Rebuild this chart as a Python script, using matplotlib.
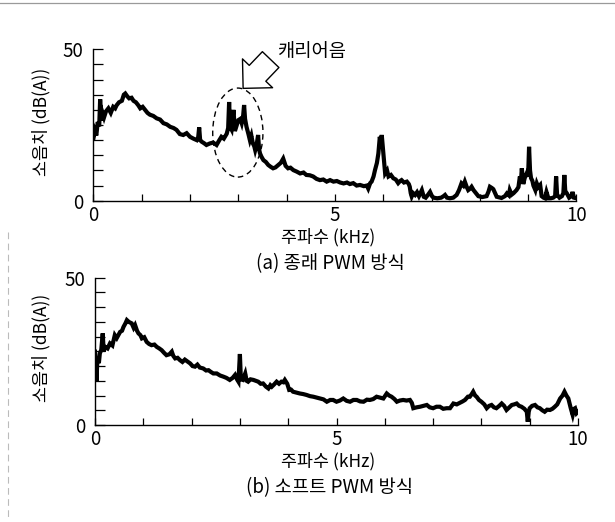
import matplotlib
matplotlib.use("Agg")
import matplotlib.pyplot as plt
import matplotlib.lines as lines
from matplotlib.patches import Ellipse
from matplotlib.ticker import MultipleLocator

plt.rcParams['font.family'] = ['Noto Sans CJK KR', 'DejaVu Sans']

# (a) conventional PWM: frequency (kHz) and noise level (dB(A))
freq_a = [0.00, 0.03, 0.06, 0.09, 0.12, 0.14, 0.16, 0.19, 0.22, 0.26,
          0.31, 0.36, 0.41, 0.45, 0.48, 0.53, 0.59, 0.63, 0.66, 0.70,
          0.74, 0.79, 0.83, 0.88, 0.93, 0.97, 1.02, 1.07, 1.12, 1.17,
          1.24, 1.31, 1.38, 1.45, 1.52, 1.59, 1.66, 1.72, 1.79, 1.86,
          1.93, 2.00, 2.07, 2.14, 2.17, 2.19, 2.21, 2.24, 2.29, 2.34,
          2.41, 2.48, 2.55, 2.60, 2.65, 2.70, 2.76, 2.79, 2.81, 2.83,
          2.86, 2.90, 2.93, 2.96, 3.00, 3.04, 3.07, 3.10, 3.12, 3.14,
          3.17, 3.21, 3.24, 3.27, 3.30, 3.33, 3.35, 3.38, 3.41, 3.43,
          3.45, 3.48, 3.52, 3.57, 3.62, 3.67, 3.72, 3.77, 3.83, 3.88,
          3.93, 3.98, 4.03, 4.08, 4.14, 4.21, 4.28, 4.35, 4.41, 4.48,
          4.55, 4.62, 4.69, 4.76, 4.83, 4.90, 4.97, 5.04, 5.11, 5.18,
          5.25, 5.31, 5.38, 5.45, 5.52, 5.60, 5.66, 5.69, 5.73, 5.76,
          5.80, 5.83, 5.87, 5.90, 5.93, 5.95, 5.97, 5.99, 6.01, 6.04,
          6.08, 6.11, 6.16, 6.21, 6.26, 6.31, 6.35, 6.38, 6.43, 6.49,
          6.53, 6.55, 6.57, 6.59, 6.62, 6.66, 6.70, 6.74, 6.77, 6.80,
          6.84, 6.88, 6.93, 6.97, 7.01, 7.04, 7.12, 7.20, 7.25, 7.28,
          7.32, 7.38, 7.45, 7.52, 7.57, 7.62, 7.66, 7.69, 7.73, 7.76,
          7.80, 7.83, 7.87, 7.90, 7.97, 8.05, 8.14, 8.18, 8.21, 8.25,
          8.28, 8.35, 8.45, 8.52, 8.56, 8.60, 8.62, 8.66, 8.70, 8.76,
          8.80, 8.83, 8.85, 8.87, 8.89, 8.90, 8.93, 8.97, 9.00, 9.02,
          9.04, 9.06, 9.09, 9.11, 9.15, 9.18, 9.21, 9.25, 9.28, 9.32,
          9.35, 9.38, 9.42, 9.47, 9.52, 9.56, 9.58, 9.60, 9.65, 9.70,
          9.73, 9.75, 9.77, 9.80, 9.85, 9.90, 9.92, 9.95, 10.0]
level_a = [20.5, 23.0, 21.5, 26.0, 24.5, 33.5, 26.5, 29.0, 27.5, 29.5,
           30.5, 29.0, 31.0, 30.5, 31.5, 32.5, 33.0, 35.0, 35.4, 34.5,
           33.8, 34.0, 33.0, 32.5, 31.5, 30.5, 31.0, 30.0, 29.0, 28.4,
           28.0, 27.2, 26.8, 25.6, 25.2, 24.4, 24.0, 23.4, 22.0, 21.7,
           22.3, 21.1, 20.5, 20.0, 21.0, 24.2, 20.0, 19.5, 19.0, 18.4,
           18.9, 19.2, 18.4, 19.8, 21.1, 20.5, 22.1, 24.0, 32.6, 24.4,
           23.5, 30.0, 23.0, 24.5, 26.6, 27.0, 25.6, 28.0, 31.6, 27.0,
           24.4, 22.0, 20.0, 21.5, 19.0, 18.0, 16.7, 18.5, 21.7, 17.0,
           15.6, 14.5, 13.4, 12.8, 11.8, 11.2, 10.7, 11.0, 11.8, 12.5,
           13.9, 11.5, 10.7, 10.9, 10.1, 9.6, 9.0, 9.3, 8.5, 8.4,
           8.0, 7.2, 6.8, 7.0, 6.3, 6.8, 6.3, 6.5, 6.0, 5.7,
           6.0, 5.5, 5.8, 5.0, 5.2, 4.8, 5.0, 4.0, 5.8, 6.3,
           8.0, 10.1, 12.5, 15.6, 21.1, 19.0, 21.7, 18.0, 14.5, 9.0,
           10.0, 8.0, 8.5, 7.4, 7.0, 5.8, 6.5, 6.8, 6.0, 6.3,
           5.5, 4.6, 2.5, 1.4, 2.5, 1.9, 2.8, 1.5, 2.5, 3.5,
           1.3, 1.0, 2.0, 2.9, 1.5, 1.0, 0.8, 1.0, 1.5, 1.9,
           1.0, 0.8, 1.0, 1.9, 3.5, 5.7, 5.0, 6.3, 4.5, 3.5,
           4.0, 4.6, 3.5, 2.9, 1.5, 1.2, 1.5, 3.0, 4.6, 4.2,
           3.8, 1.3, 0.9, 1.5, 2.4, 1.8, 3.5, 2.0, 2.5, 3.5,
           4.5, 8.0, 6.0, 10.7, 7.0, 5.5, 7.5, 9.0, 8.0, 17.8,
           10.0, 7.5, 6.5, 5.0, 3.5, 5.7, 4.5, 5.2, 1.5, 1.0,
           0.8, 2.9, 0.8, 0.8, 1.0, 1.5, 8.0, 2.0, 1.0, 1.5,
           2.5, 8.5, 3.0, 2.5, 1.0, 1.5, 2.9, 1.0, 0.8]

# (b) soft PWM
freq_b = [0.00, 0.02, 0.03, 0.05, 0.08, 0.10, 0.13, 0.16, 0.18, 0.21,
          0.26, 0.31, 0.36, 0.41, 0.45, 0.52, 0.56, 0.59, 0.63, 0.66,
          0.70, 0.76, 0.80, 0.83, 0.87, 0.90, 0.94, 0.97, 1.02, 1.07,
          1.12, 1.17, 1.23, 1.28, 1.33, 1.38, 1.43, 1.48, 1.54, 1.59,
          1.62, 1.66, 1.71, 1.76, 1.81, 1.86, 1.92, 1.97, 2.02, 2.07,
          2.12, 2.17, 2.24, 2.30, 2.35, 2.40, 2.45, 2.52, 2.59, 2.66,
          2.72, 2.79, 2.85, 2.90, 2.94, 2.97, 3.00, 3.02, 3.06, 3.11,
          3.14, 3.17, 3.22, 3.28, 3.33, 3.38, 3.43, 3.48, 3.54, 3.59,
          3.63, 3.66, 3.71, 3.76, 3.81, 3.86, 3.90, 3.93, 3.98, 4.02,
          4.06, 4.10, 4.17, 4.24, 4.31, 4.38, 4.45, 4.52, 4.59, 4.66,
          4.73, 4.80, 4.87, 4.93, 5.00, 5.07, 5.14, 5.21, 5.28, 5.35,
          5.42, 5.49, 5.56, 5.63, 5.69, 5.76, 5.83, 5.90, 5.97, 6.04,
          6.09, 6.14, 6.20, 6.25, 6.31, 6.38, 6.45, 6.52, 6.56, 6.59,
          6.66, 6.73, 6.80, 6.87, 6.93, 7.00, 7.07, 7.14, 7.21, 7.28,
          7.35, 7.42, 7.49, 7.56, 7.61, 7.66, 7.72, 7.76, 7.80, 7.83,
          7.87, 7.90, 7.95, 8.00, 8.06, 8.11, 8.16, 8.21, 8.26, 8.31,
          8.37, 8.42, 8.47, 8.52, 8.58, 8.63, 8.68, 8.73, 8.78, 8.83,
          8.89, 8.94, 8.96, 8.98, 9.00, 9.05, 9.11, 9.16, 9.21, 9.26,
          9.31, 9.36, 9.42, 9.47, 9.52, 9.57, 9.63, 9.68, 9.72, 9.76,
          9.80, 9.83, 9.85, 9.87, 9.89, 9.92, 9.94, 9.97, 10.0]
level_b = [24.9, 20.0, 14.7, 22.6, 21.0, 24.3, 25.5, 31.1, 25.0, 26.5,
           26.0, 27.7, 27.0, 30.5, 29.5, 31.6, 32.0, 33.3, 34.5, 35.6,
           35.0, 34.5, 33.0, 33.9, 32.0, 31.1, 30.5, 29.4, 29.8, 28.2,
           27.5, 27.1, 27.3, 26.5, 26.0, 25.4, 24.5, 23.7, 24.0, 24.9,
           23.5, 22.6, 22.8, 22.0, 21.4, 22.2, 21.5, 20.9, 20.0, 19.8,
           20.5, 19.5, 19.2, 18.5, 18.6, 18.0, 17.5, 17.5, 16.8, 16.4,
           16.0, 15.3, 16.0, 17.0, 15.5, 14.7, 24.1, 15.5, 15.3, 17.5,
           15.0, 14.7, 15.5, 15.3, 15.0, 14.7, 14.0, 14.1, 13.0, 12.4,
           13.5, 13.0, 13.8, 14.7, 14.0, 14.7, 14.5, 15.3, 14.0, 11.9,
           12.0, 11.3, 11.0, 10.7, 10.5, 10.2, 9.8, 9.6, 9.3, 9.0,
           8.7, 7.9, 8.5, 8.5, 7.9, 8.3, 9.0, 8.2, 7.9, 8.5,
           8.5, 8.0, 7.9, 8.6, 8.5, 8.8, 9.6, 9.3, 9.0, 10.7,
           10.0, 9.6, 8.8, 7.9, 8.3, 8.5, 8.3, 8.5, 7.5, 5.7,
           6.0, 6.2, 6.5, 6.8, 6.0, 5.7, 6.2, 6.2, 5.5, 5.7,
           5.7, 7.3, 7.0, 7.6, 8.0, 8.5, 9.6, 9.6, 10.5, 11.3,
           10.0, 9.6, 8.5, 7.9, 7.0, 5.7, 6.5, 6.8, 6.0, 5.7,
           6.5, 7.3, 6.5, 5.1, 6.0, 6.8, 7.0, 7.3, 6.5, 6.2,
           5.5, 4.5, 1.1, 4.5, 5.7, 6.5, 6.8, 6.0, 5.7, 5.0,
           4.5, 5.2, 5.1, 5.5, 6.2, 7.0, 9.0, 10.0, 11.3, 10.0,
           9.0, 7.0, 5.7, 4.5, 3.4, 5.5, 5.7, 4.0, 4.5]

x_ticks = [0, 5, 10]
y_ticks = [0, 50]
captions = ['(a) 종래 PWM 방식', '(b) 소프트 PWM 방식']

W, H = 615, 522
fig = plt.figure(figsize=(W / 100, H / 100), dpi=100)


def px(x, y):
    # pixel position (from top left) -> figure fraction
    return x / W, 1 - y / H


def panel(rect, freq, level, caption, y_axis):
    ax = fig.add_axes(rect)
    ax.plot(freq, level, color='black', lw=3.0, solid_joinstyle='miter')
    ax.set_xlim(0, 10)
    ax.set_ylim(0, 50)
    ax.set_xticks(x_ticks)
    ax.set_yticks(y_ticks)
    ax.xaxis.set_minor_locator(MultipleLocator(1))
    ax.yaxis.set_minor_locator(MultipleLocator(5))
    ax.tick_params(which='both', direction='in', width=0.9, labelsize=13.5)
    ax.tick_params(axis='x', which='both', length=5, pad=3)
    ax.tick_params(axis='y', which='both', length=7, pad=7)
    for s in ['top', 'right']:
        ax.spines[s].set_visible(False)
    for s in ['left', 'bottom']:
        ax.spines[s].set_linewidth(1.0)

    top = 1 - (rect[1] + rect[3])
    bot = 1 - rect[1]
    fig.text(*px(41, (top + bot) / 2 * H - 3), '소음치 (dB(A))', rotation=90,
             ha='center', va='center', fontsize=12.5)
    fig.text(*px(328, y_axis + 36.5), '주파수 (kHz)', ha='center', va='center',
             fontsize=12.5)
    fig.text(*px(330, y_axis + 62.5), caption, ha='center', va='center',
             fontsize=13.5)
    return ax


ax1 = panel([93.4 / W, 1 - 200.7 / H, 483 / W, 151.4 / H],
            freq_a, level_a, captions[0], 200.7)
ax2 = panel([95 / W, 1 - 425 / H, 483 / W, 147.3 / H],
            freq_b, level_b, captions[1], 425)

# carrier-noise mark
ax1.add_patch(Ellipse((2.99, 22.5), 1.04, 29.4, fill=False, ec='black',
                      lw=1.0, ls=(0, (4, 3))))
ax1.annotate('', xy=(3.10, 37.1), xytext=(3.67, 46.6),
             arrowprops=dict(arrowstyle='simple,head_length=1.5,head_width=3.0,tail_width=1.65',
                             fc='white', ec='black', lw=1.0,
                             shrinkA=0, shrinkB=0, mutation_scale=10))
fig.text(*px(312, 52), '캐리어음', ha='center', va='center', fontsize=13.5)

# page edges from the scan
fig.add_artist(lines.Line2D([0, 1], [1 - 2.5 / H] * 2, color='#9a9a9a', lw=0.9))
fig.add_artist(lines.Line2D([8 / W] * 2, [1 - 232 / H, 1 - 520 / H],
                            color='#bbbbbb', lw=0.8, ls=(0, (6, 4))))

fig.savefig('out.png', dpi=100)
